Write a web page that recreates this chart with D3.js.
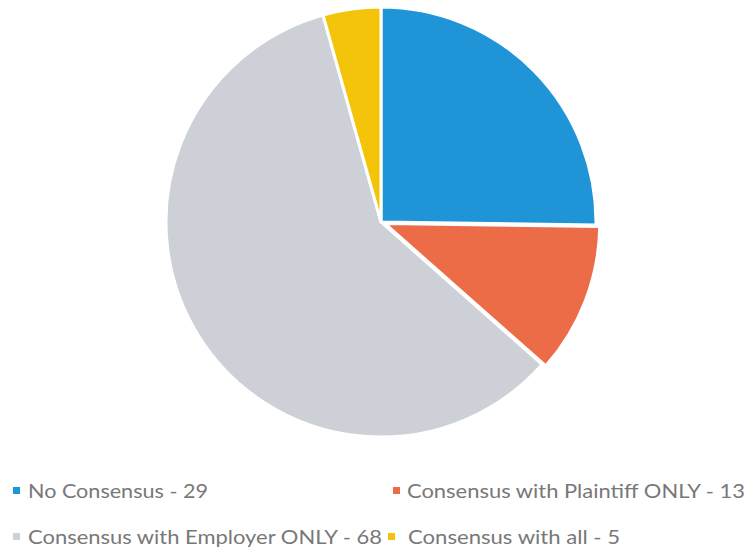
<!DOCTYPE html>
<html>
<head>
<meta charset="utf-8">
<script src="https://cdn.jsdelivr.net/npm/d3@7"></script>
<style>
  html, body { margin: 0; padding: 0; background: #ffffff; }
  svg { display: block; }
</style>
</head>
<body>
<svg id="chart" width="747" height="551"></svg>
<script>
// Survey outcome counts
const categories = [
  "No Consensus",
  "Consensus with Plaintiff ONLY",
  "Consensus with Employer ONLY",
  "Consensus with all"
];
const values = [29, 13, 68, 5];
const colors = ["#1f95d8", "#ec6c48", "#cdd0d6", "#f4c40a"];
// slices pulled out from the centre (px)
const explode = [0, 4, 0, 0];

const svg = d3.select("#chart");
const cx = 381, cy = 222, radius = 215;

const data = categories.map((c, i) => ({ name: c, value: values[i], color: colors[i], explode: explode[i] }));

const pie = d3.pie().sort(null).value(d => d.value).startAngle(0).endAngle(2 * Math.PI);
const arc = d3.arc().innerRadius(0).outerRadius(radius);

const g = svg.append("g").attr("transform", `translate(${cx},${cy})`);

g.selectAll("path")
  .data(pie(data))
  .join("path")
  .attr("d", arc)
  .attr("fill", d => d.data.color)
  .attr("stroke", "#ffffff")
  .attr("stroke-width", 3)
  .attr("stroke-linejoin", "round")
  .attr("transform", d => {
    const a = (d.startAngle + d.endAngle) / 2;
    const off = d.data.explode;
    return `translate(${Math.sin(a) * off},${-Math.cos(a) * off})`;
  });

// Legend: two rows, two columns
const legendPos = [
  { x: 13, y: 491, tx: 28, tw: 180 },
  { x: 393, y: 491, tx: 407, tw: 338 },
  { x: 13, y: 537, tx: 28, tw: 354 },
  { x: 388, y: 537, tx: 408, tw: 212 }
];

const legend = svg.append("g").attr("class", "legend");
data.forEach((d, i) => {
  const p = legendPos[i];
  legend.append("rect")
    .attr("x", p.x).attr("y", p.y - 4)
    .attr("width", 7).attr("height", 7)
    .attr("fill", d.color);
  legend.append("text")
    .attr("x", p.tx).attr("y", p.y)
    .attr("dy", "0.36em")
    .attr("font-family", "Lato, 'Open Sans', sans-serif")
    .attr("font-size", 19)
    .attr("fill", "#787878")
    .attr("textLength", p.tw)
    .attr("lengthAdjust", "spacingAndGlyphs")
    .text(`${d.name} - ${d.value}`);
});
</script>
</body>
</html>
